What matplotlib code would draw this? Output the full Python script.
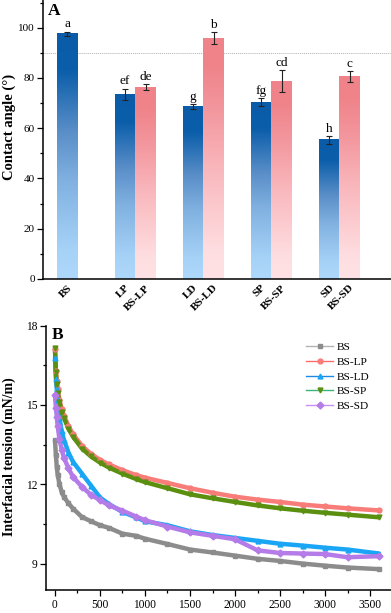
import numpy as np
import matplotlib.pyplot as plt
from matplotlib.colors import LinearSegmentedColormap
from matplotlib.lines import Line2D
from matplotlib.ticker import MultipleLocator

plt.rcParams['font.family'] = ['Liberation Serif', 'DejaVu Serif']

# ---- panel A data: contact angle ----
samples = ["BS", "LP", "BS-LP", "LD", "BS-LD", "SP", "BS-SP", "SD", "BS-SD"]
angle = [97.5, 73.4, 76.2, 68.7, 95.8, 70.4, 78.7, 55.4, 80.4]
angle_err = [0.9, 2.3, 1.2, 1.0, 2.4, 1.5, 4.3, 1.5, 2.2]
letters = ["a", "ef", "de", "g", "b", "fg", "cd", "h", "c"]

# ---- panel B data: interfacial tension ----
t = [0, 10, 20, 30, 50, 75, 100, 150, 200, 300, 400, 500, 600, 750, 900,
     1000, 1250, 1500, 1750, 2000, 2250, 2500, 2750, 3000, 3250, 3600]
ift_bs = [13.67, 13.1, 12.66, 12.35, 12.0, 11.7, 11.52, 11.28, 11.08, 10.76, 10.6, 10.45, 10.35,
          10.13, 10.05, 9.94, 9.74, 9.53, 9.42, 9.3, 9.18, 9.1, 9.0, 8.92, 8.85, 8.79]
ift_lp = [17.1, 16.3, 15.9, 15.6, 15.2, 14.85, 14.6, 14.2, 13.9, 13.45, 13.15, 12.92, 12.75,
          12.53, 12.35, 12.25, 12.05, 11.85, 11.68, 11.53, 11.42, 11.33, 11.23, 11.16, 11.09, 11.01]
ift_ld = [16.76, 16.0, 15.6, 15.2, 14.5, 14.0, 13.67, 13.2, 12.85, 12.4, 11.95, 11.5, 11.25,
          10.95, 10.75, 10.6, 10.45, 10.22, 10.08, 9.97, 9.86, 9.75, 9.68, 9.6, 9.53, 9.38]
ift_sp = [17.15, 16.25, 15.8, 15.45, 15.1, 14.75, 14.5, 14.1, 13.8, 13.35, 13.05, 12.82, 12.63,
          12.4, 12.2, 12.08, 11.85, 11.62, 11.47, 11.33, 11.2, 11.09, 11.0, 10.92, 10.85, 10.75]
ift_sd = [15.37, 14.9, 14.55, 14.2, 13.7, 13.3, 13.0, 12.6, 12.28, 11.9, 11.6, 11.4, 11.2,
          11.0, 10.78, 10.64, 10.4, 10.18, 10.05, 9.92, 9.5, 9.4, 9.38, 9.36, 9.24, 9.28]

# bar positions: BS alone, then pairs
xpos = [0, 0.85, 1.15, 1.85, 2.15, 2.85, 3.15, 3.85, 4.15]
width = 0.3

fig = plt.figure(figsize=(3.91, 6.13), dpi=100)
axA = fig.add_axes([0.111, 0.5449, 0.889, 0.4551])
axB = fig.add_axes([0.1176, 0.0375, 0.8824, 0.4313])

blue_cm = LinearSegmentedColormap.from_list("b", [(0, "#aed8fb"), (0.12, "#a6d2f7"), (0.4, "#80b1e0"),
                                                  (0.6, "#5a8ec8"), (0.85, "#0b5eaa"), (1, "#0a5ca8")])
pink_cm = LinearSegmentedColormap.from_list("p", [(0, "#ffe2e5"), (0.12, "#fedde0"), (0.45, "#f9b8bd"),
                                                  (0.7, "#f3979e"), (0.88, "#f0848b"), (1, "#f0838a")])
grad = np.linspace(0, 1, 256).reshape(-1, 1)

for i, (x, h) in enumerate(zip(xpos, angle)):
    cm = blue_cm if samples[i].count("-") == 0 else pink_cm
    axA.imshow(grad, cmap=cm, origin="lower", aspect="auto",
               extent=[x - width / 2, x + width / 2, 0, h], zorder=2)
    axA.errorbar(x, h, yerr=angle_err[i], color="#222222", lw=0.8, capsize=2.5,
                 capthick=0.8, zorder=3)
    axA.text(x, h + angle_err[i] + 0.5, letters[i], ha="center", va="bottom", fontsize=9.5)

axA.axhline(90, color="#b0b0b0", lw=0.7, ls=(0, (1, 1)), zorder=1)
axA.set_xlim(-0.353, 4.76)
axA.set_ylim(0, 111)
axA.yaxis.set_major_locator(MultipleLocator(20))
axA.yaxis.set_minor_locator(MultipleLocator(10))
axA.set_xticks(xpos)
axA.set_xticklabels(samples, rotation=45, ha="right", rotation_mode="anchor",
                    fontweight="bold", fontsize=8)
axA.tick_params(axis="x", length=0, pad=3)
axA.tick_params(axis="y", direction="out", length=4.3, width=0.9, labelsize=8, pad=2)
axA.tick_params(axis="y", which="minor", direction="out", length=2.2, width=0.9)
axA.set_ylabel("Contact angle (°)", fontweight="bold", fontsize=10.5)
axA.yaxis.set_label_coords(-0.08, 0.545)
axA.text(0.012, 0.99, "A", transform=axA.transAxes, fontsize=12.5, fontweight="bold",
         ha="left", va="top")
for s in ["top", "right"]:
    axA.spines[s].set_visible(False)
for s in ["left", "bottom"]:
    axA.spines[s].set_linewidth(1.1)

# ---- panel B ----
series = [
    ("BS", ift_bs, "#8c8c8c", "#b3b3b3", "s"),
    ("BS-LP", ift_lp, "#f87c78", "#ff6b6b", "o"),
    ("BS-LD", ift_ld, "#1aa6f5", "#1e88e5", "^"),
    ("BS-SP", ift_sp, "#5a8f10", "#3cb47a", "v"),
    ("BS-SD", ift_sd, "#b57be8", "#c890f0", "D"),
]
handles = []
for name, y, mc, lc, mk in series:
    axB.plot(t, y, color=mc, lw=3.2, solid_capstyle="round", solid_joinstyle="round", zorder=2)
    axB.plot(t, y, ls="none", marker=mk, ms=3.5, color=mc, mec=mc, zorder=3)
    handles.append(Line2D([], [], color=lc, lw=1, marker=mk, ms=3.5, mfc=mc, mec=mc, label=name))

axB.set_xlim(-100, 3733)
axB.set_ylim(8, 18)
axB.xaxis.set_major_locator(MultipleLocator(500))
axB.xaxis.set_minor_locator(MultipleLocator(250))
axB.yaxis.set_major_locator(MultipleLocator(3))
axB.yaxis.set_minor_locator(MultipleLocator(1.5))
axB.tick_params(direction="out", length=4.3, width=0.9, labelsize=8.3, pad=2)
axB.tick_params(which="minor", direction="out", length=2.2, width=0.9)
axB.set_ylabel("Interfacial tension (mN/m)", fontweight="bold", fontsize=10)
axB.yaxis.set_label_coords(-0.088, 0.505)
axB.text(0.018, 0.995, "B", transform=axB.transAxes, fontsize=12.5, fontweight="bold",
         ha="left", va="top")
axB.legend(handles=handles, loc="upper left", bbox_to_anchor=(0.725, 0.975), frameon=False,
           fontsize=8.2, handlelength=2.35, handletextpad=0.3, labelspacing=0.4)
for s in ["top", "right"]:
    axB.spines[s].set_visible(False)
for s in ["left", "bottom"]:
    axB.spines[s].set_linewidth(1.1)

fig.savefig("out.png", dpi=100)
